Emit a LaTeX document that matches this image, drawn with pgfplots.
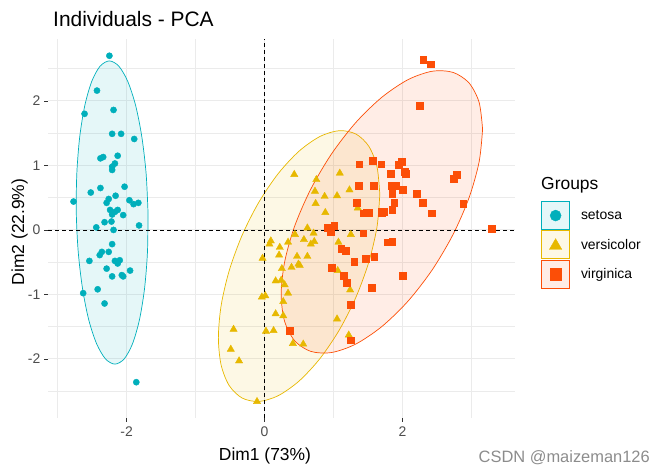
\documentclass[border=0pt]{standalone}
\usepackage{fontspec}
\setmainfont{Liberation Sans}
\usepackage{pgfplots}
\pgfplotsset{compat=1.18}
\definecolor{cS}{HTML}{00AFBB}
\definecolor{cV}{HTML}{E7B800}
\definecolor{cG}{HTML}{FC4E07}
\definecolor{gridc}{HTML}{EBEBEB}
\definecolor{tickc}{HTML}{4D4D4D}
\pgfplotsset{
  legS/.style={legend image code/.code={
    \draw[cS, fill=cS, fill opacity=0.1, line width=0.8bp] (0bp,-14bp) rectangle (28bp,14bp);
    \draw[mark repeat=2, mark phase=2, ##1, mark size=5.5bp] plot coordinates {(0bp,0bp) (14bp,0bp) (28bp,0bp)};}},
  legV/.style={legend image code/.code={
    \draw[cV, fill=cV, fill opacity=0.1, line width=0.8bp] (0bp,-14bp) rectangle (28bp,14bp);
    \draw[mark repeat=2, mark phase=2, ##1, mark size=7.2bp] plot coordinates {(0bp,-1bp) (14bp,-1bp) (28bp,-1bp)};}},
  legG/.style={legend image code/.code={
    \draw[cG, fill=cG, fill opacity=0.1, line width=0.8bp] (0bp,-14bp) rectangle (28bp,14bp);
    \draw[mark repeat=2, mark phase=2, ##1, mark size=5.6bp] plot coordinates {(0bp,0bp) (14bp,0bp) (28bp,0bp)};}},
}
\begin{document}
\begin{tikzpicture}[x=1bp,y=1bp]
\useasboundingbox (0,0) rectangle (660,475);
\begin{axis}[
  at={(48bp,57bp)}, anchor=south west,
  width=467bp, height=379bp, scale only axis,
  xmin=-3.14, xmax=3.63, ymin=-2.915, ymax=2.96,
  axis line style={draw=none},
  xtick={-2,0,2}, ytick={-2,-1,0,1,2},
  minor xtick={-3,-1,1,3}, minor ytick={-2.5,-1.5,-0.5,0.5,1.5,2.5},
  grid=both,
  major grid style={gridc, line width=1bp},
  minor grid style={gridc, line width=0.55bp},
  tick align=outside, tick pos=left,
  major tick length=4bp, minor tick length=0pt,
  tick style={color=black!80, line width=0.8bp},
  /pgf/number format/assume math mode=true,
  ticklabel style={font=\fontsize{14}{16}\selectfont, text=tickc, inner sep=0pt},
  xticklabel shift=4.5bp, yticklabel shift=3.5bp,
  legend cell align=left,
  legend style={at={(1.0557,0.5726)}, anchor=north west, draw=none, fill=none,
    inner sep=0pt, row sep=0.5bp, font=\fontsize{14}{16}\selectfont,
    /tikz/every odd column/.append style={column sep=9bp}},
]
% ellipses
\addplot[cS, line width=0.7bp, fill=cS, fill opacity=0.1, smooth, forget plot] coordinates {
(-1.690,0.270) (-1.718,0.879) (-1.780,1.445) (-1.870,1.931) (-1.985,2.305) (-2.114,2.540)
(-2.250,2.620) (-2.384,2.540) (-2.505,2.305) (-2.606,1.931) (-2.680,1.445) (-2.722,0.879)
(-2.730,0.270) (-2.702,-0.339) (-2.640,-0.905) (-2.550,-1.391) (-2.435,-1.765) (-2.306,-2.000)
(-2.170,-2.080) (-2.036,-2.000) (-1.915,-1.765) (-1.814,-1.391) (-1.740,-0.905) (-1.698,-0.339)
(-1.690,0.270)};
\addplot[cV, line width=0.7bp, fill=cV, fill opacity=0.1, smooth, forget plot] coordinates {
(1.670,0.551) (1.630,0.975) (1.513,1.293) (1.327,1.485) (1.085,1.539) (0.803,1.449)
(0.500,1.222) (0.197,0.873) (-0.085,0.427) (-0.327,-0.085) (-0.513,-0.631) (-0.630,-1.171)
(-0.670,-1.671) (-0.630,-2.095) (-0.513,-2.413) (-0.327,-2.605) (-0.085,-2.659) (0.197,-2.569)
(0.500,-2.342) (0.803,-1.993) (1.085,-1.547) (1.327,-1.035) (1.513,-0.489) (1.630,0.051)
(1.670,0.551)};
\addplot[cG, line width=0.7bp, fill=cG, fill opacity=0.1, smooth, forget plot] coordinates {
(3.160,1.561) (3.110,1.977) (2.964,2.278) (2.732,2.442) (2.430,2.460) (2.078,2.329)
(1.700,2.057) (1.322,1.665) (0.970,1.178) (0.668,0.630) (0.436,0.060) (0.290,-0.497)
(0.240,-1.001) (0.290,-1.417) (0.436,-1.718) (0.668,-1.882) (0.970,-1.900) (1.322,-1.769)
(1.700,-1.497) (2.078,-1.105) (2.430,-0.618) (2.732,-0.070) (2.964,0.500) (3.110,1.057)
(3.160,1.561)};
% reference lines
\addplot[black, line width=0.8bp, dash pattern=on 4bp off 3bp, forget plot] coordinates {(-3.14,0) (3.63,0)};
\addplot[black, line width=0.8bp, dash pattern=on 4bp off 3bp, forget plot] coordinates {(0,-2.915) (0,2.96)};
% points
\addplot[only marks, mark=*, cS, mark size=3.1bp, legS] coordinates {
(-2.25,2.70) (-2.43,2.16) (-2.19,1.86) (-2.61,1.80) (-2.21,1.49) (-2.08,1.49) (-1.89,1.41)
(-2.38,1.11) (-2.34,1.13) (-2.13,1.15) (-2.21,0.98) (-2.17,1.03) (-2.21,0.93) (-2.03,0.67)
(-2.38,0.65) (-2.52,0.58) (-2.77,0.44) (-2.26,0.48) (-2.16,0.53) (-1.96,0.46) (-1.90,0.40)
(-1.83,0.42) (-2.29,0.42) (-2.24,0.31) (-2.17,0.28) (-2.13,0.31) (-2.21,0.24) (-2.05,0.23)
(-2.32,0.12) (-2.22,0.13) (-2.44,0.04) (-1.82,0.07) (-2.19,0.00) (-2.21,-0.22) (-2.36,-0.34)
(-2.39,-0.39) (-2.26,-0.34) (-2.54,-0.48) (-2.17,-0.48) (-2.10,-0.47) (-2.13,-0.52) (-2.29,-0.60)
(-1.95,-0.63) (-2.07,-0.70) (-2.05,-0.72) (-2.21,-0.72) (-2.63,-0.98) (-2.42,-0.92) (-2.32,-1.14)
(-1.86,-2.36)};
\addlegendentry{setosa}
\addplot[only marks, mark=triangle*, cV, mark size=4.2bp, legV] coordinates {
(0.43,0.86) (1.09,0.88) (0.75,0.78) (0.73,0.60) (0.87,0.52) (1.05,0.53) (1.23,0.62)
(0.74,0.41) (0.88,0.27) (1.35,0.34) (0.62,0.03) (0.71,-0.05) (0.44,-0.07) (1.25,-0.07)
(0.57,-0.15) (0.72,-0.18) (0.67,-0.22) (0.34,-0.19) (0.09,-0.17) (0.07,-0.22) (0.22,-0.27)
(1.07,-0.19) (0.21,-0.39) (-0.03,-0.44) (0.47,-0.41) (0.62,-0.41) (0.49,-0.53) (0.51,-0.55)
(0.39,-0.58) (0.25,-0.60) (1.06,-0.63) (0.16,-0.79) (0.24,-0.78) (0.29,-0.85) (1.24,-0.93)
(0.34,-0.98) (-0.04,-1.04) (0.01,-1.02) (0.27,-1.11) (0.16,-1.30) (0.27,-1.33) (1.05,-1.38)
(-0.45,-1.54) (0.02,-1.57) (0.13,-1.56) (-0.49,-1.85) (0.41,-1.76) (0.56,-1.77) (-0.37,-2.03)
(-0.11,-2.66) (1.22,-1.63)};
\addlegendentry{versicolor}
\addplot[only marks, mark=square*, cG, mark size=3.4bp, legG] coordinates {
(2.30,2.64) (2.41,2.57) (2.25,1.93) (1.37,1.02) (1.57,1.07) (1.69,1.02) (1.99,1.06)
(1.94,1.01) (2.03,0.90) (2.04,0.87) (1.83,0.87) (2.74,0.80) (2.79,0.86) (1.36,0.69)
(1.58,0.68) (1.84,0.68) (1.90,0.69) (2.00,0.62) (1.85,0.56) (2.20,0.56) (2.29,0.42)
(2.88,0.41) (2.42,0.26) (1.34,0.42) (1.88,0.42) (1.48,0.27) (1.43,0.26) (1.70,0.26)
(1.73,0.28) (1.70,0.29) (1.85,0.31) (3.29,0.02) (1.01,0.06) (0.92,0.03) (0.96,-0.03)
(1.43,-0.05) (1.78,-0.19) (1.85,-0.18) (1.11,-0.29) (1.17,-0.32) (1.30,-0.49) (1.46,-0.45)
(1.59,-0.42) (0.97,-0.58) (1.15,-0.71) (1.19,-0.82) (2.00,-0.71) (1.55,-0.90) (1.25,-1.16)
(1.25,-1.71) (0.36,-1.56) (1.51,0.27)};
\addlegendentry{virginica}
\end{axis}
\node[anchor=base west, inner sep=0pt, font=\fontsize{21}{24}\selectfont] at (53,448.3) {Individuals - PCA};
\node[anchor=base, inner sep=0pt, font=\fontsize{17.5}{20}\selectfont] at (265,14) {Dim1 (73\%)};
\node[anchor=base, inner sep=0pt, rotate=90, font=\fontsize{17.5}{20}\selectfont] at (24,243) {Dim2 (22.9\%)};
\node[anchor=base west, inner sep=0pt, font=\fontsize{17.5}{20}\selectfont] at (541,285) {Groups};
\node[anchor=base east, inner sep=0pt, font=\fontsize{16.5}{18}\selectfont, text=black!45] at (650,12) {CSDN @maizeman126};
\end{tikzpicture}
\end{document}
